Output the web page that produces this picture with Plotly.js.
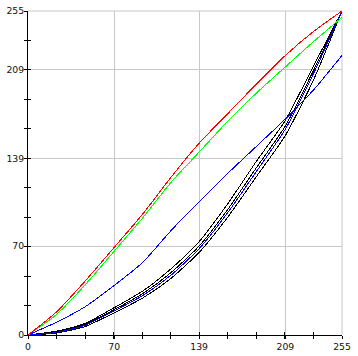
<!DOCTYPE html>
<html>
<head>
<meta charset="utf-8">
<script src="https://cdn.plot.ly/plotly-3.0.1.min.js"></script>
<style>
html,body{margin:0;padding:0;background:#fff;}
#chart{width:358px;height:356px;}
.scatterlayer path{shape-rendering:crispEdges;}
</style>
</head>
<body>
<div id="chart"></div>
<script>
// input levels (x)
var xLevels = [0, 23, 46, 70, 93, 116, 139, 162, 185, 209, 232, 255];
// curves
var redCurve   = [0, 18, 42, 69, 95, 124, 151, 174, 197, 220, 239, 255];
var greenCurve = [0, 16, 39, 66, 92, 120, 144, 168, 190, 211, 231, 250];
var blueCurve  = [0, 10, 22, 39, 57, 82, 105, 127, 148, 170, 193, 220];
var blueInner  = [0, 2, 7.5, 19, 31, 47, 68, 96, 128, 162, 206, 255];
var blackUpper = [0, 3, 9, 21.5, 34.5, 52, 73.5, 103, 136, 169, 212, 255];
var blackMid   = [0, 2.4, 8.2, 20, 32.5, 49, 70, 98.5, 131, 164.5, 208.5, 255];
var blackLower = [0, 1.5, 6.5, 17.5, 29, 44.5, 65, 92.5, 124, 157, 201, 255];
// tick labels
var majorTicks = [0, 70, 139, 209, 255];
var majorLabels = ['0', '70', '139', '209', '255'];
var tickCount = 11;

var minorTicks = [];
for (var k = 0; k <= tickCount; k++) minorTicks.push(k * 255 / tickCount);

function line(y, color) {
  return {x: xLevels, y: y, type: 'scatter', mode: 'lines',
    line: {color: color, width: 1, shape: 'spline', smoothing: 0.6},
    hoverinfo: 'skip', showlegend: false};
}

var data = [
  line(blackUpper, '#000000'),
  line(blackMid, '#000000'),
  line(blackLower, '#000000'),
  line(blueInner, '#0000ff'),
  line(blueCurve, '#0000ff'),
  line(greenCurve, '#00ff00'),
  line(redCurve, '#ff0000'),
  {x: [0], y: [0], xaxis: 'x2', yaxis: 'y2', mode: 'markers', marker: {opacity: 0}, hoverinfo: 'skip', showlegend: false}
];

var tickFont = {family: 'DejaVu Sans', size: 9.3, color: '#111'};
var baseAxis = {
  range: [0, 255], fixedrange: true, zeroline: false,
  showline: true, linecolor: '#000', linewidth: 1,
  showgrid: true, gridcolor: '#c8c8c8', gridwidth: 1,
  tickmode: 'array', tickvals: majorTicks, ticktext: majorLabels,
  ticks: 'outside', ticklen: 3, tickcolor: '#000', tickwidth: 1,
  tickfont: tickFont,
  minor: {tickmode: 'array', tickvals: minorTicks, ticks: 'outside', ticklen: 3, tickcolor: '#000', tickwidth: 1, showgrid: false}
};
var overAxis = {
  range: [0, 255], fixedrange: true, zeroline: false, showgrid: false,
  showline: false, showticklabels: false,
  tickmode: 'array', tickvals: minorTicks, ticks: 'inside', ticklen: 3, tickcolor: '#000', tickwidth: 1
};

var layout = {
  width: 358, height: 356,
  margin: {l: 28, r: 16, t: 11, b: 21, pad: 0},
  paper_bgcolor: '#fff', plot_bgcolor: '#fff',
  xaxis: Object.assign({}, baseAxis),
  yaxis: Object.assign({ticklabelstandoff: -2}, baseAxis),
  xaxis2: Object.assign({overlaying: 'x', side: 'bottom', anchor: 'y'}, overAxis),
  yaxis2: Object.assign({overlaying: 'y', side: 'left', anchor: 'x'}, overAxis),
  shapes: [
    {type: 'line', xref: 'paper', yref: 'paper', x0: 0, x1: 1, y0: 1, y1: 1, line: {color: '#c8c8c8', width: 1}, layer: 'below'},
    {type: 'line', xref: 'paper', yref: 'paper', x0: 1, x1: 1, y0: 0, y1: 1, line: {color: '#c8c8c8', width: 1}, layer: 'below'}
  ]
};

Plotly.newPlot('chart', data, layout, {staticPlot: true, displayModeBar: false});
</script>
</body>
</html>
